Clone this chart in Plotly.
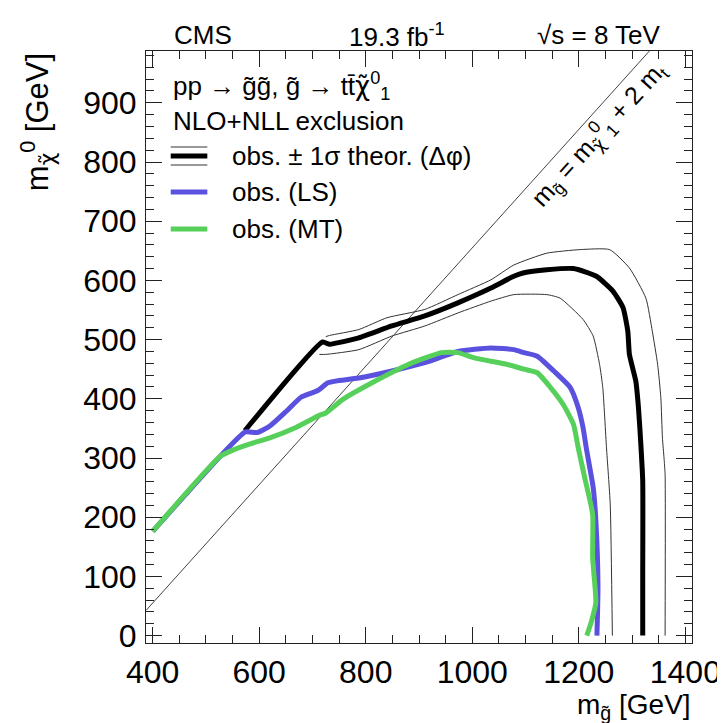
import plotly.graph_objects as go

# ---------------- data ----------------
obs_x = [573, 719, 732, 744, 787, 849, 911, 973, 1035, 1078, 1097, 1140, 1190, 1233,
         1264, 1283, 1292, 1295, 1307, 1312, 1316, 1320, 1320, 1320]
obs_y = [346, 496, 492, 494, 503, 523, 540, 562, 587, 607, 613, 618, 620, 607,
         582, 554, 514, 475, 430, 385, 330, 261, 100, 0]

obs_up_x = [725, 732, 787, 840, 911, 973, 1035, 1078, 1140, 1202, 1258, 1295, 1326,
            1338, 1348, 1354, 1357, 1360, 1362, 1362]
obs_up_y = [505, 507, 517, 537, 551, 576, 601, 626, 646, 652, 652, 621, 570,
            514, 458, 402, 334, 300, 272, 0]

obs_dn_x = [713, 725, 787, 849, 911, 973, 1035, 1078, 1140, 1165, 1208, 1227, 1239,
            1245, 1252, 1259, 1263]
obs_dn_y = [475, 475, 483, 506, 523, 545, 565, 576, 576, 570, 534, 506, 458,
            419, 317, 222, 0]

ls_x = [400, 527, 574, 596, 620, 651, 679, 710, 729, 744, 787, 849, 911, 973, 1035,
        1078, 1097, 1122, 1153, 1184, 1199, 1208, 1214, 1227, 1232, 1236, 1234]
ls_y = [176, 303, 344, 343, 354, 379, 403, 414, 427, 430, 435, 447, 461, 480, 486,
        483, 478, 472, 447, 419, 385, 351, 317, 250, 194, 81, 0]

mt_x = [400, 527, 552, 583, 620, 670, 713, 725, 757, 818, 880, 942, 973, 1004, 1066,
        1097, 1122, 1147, 1171, 1190, 1199, 1211, 1226, 1226, 1232, 1224, 1215]
mt_y = [176, 303, 314, 324, 334, 352, 372, 376, 399, 430, 458, 478, 478, 469, 458,
        450, 444, 419, 390, 357, 317, 267, 205, 132, 56, 25, 0]

m_top = 172.5
diag_x = [387.5, 1332.5]
diag_y = [v - 2 * m_top for v in diag_x]

x_range = [387.5, 1412.5]
y_range = [-12.5, 987.5]

BLUE = "#5A52DE"
GREEN = "#56D05A"
FONT = "Liberation Sans, Arial, Helvetica, sans-serif"
CHI = '<span style="font-family:DejaVu Sans">χ̃</span>'

# plot area in pixels
L, R, T, B = 138, 690, 43, 635
W, H = 725, 723


def px(xp):
    return (xp - L) / (R - L)


def py(yp):
    return (B - yp) / (B - T)


fig = go.Figure()

fig.add_trace(go.Scatter(x=diag_x, y=diag_y, mode="lines",
                         line=dict(color="#444", width=1), showlegend=False))
fig.add_trace(go.Scatter(x=obs_up_x, y=obs_up_y, mode="lines",
                         line=dict(color="#333", width=1, shape="spline", smoothing=0.5),
                         showlegend=False))
fig.add_trace(go.Scatter(x=obs_dn_x, y=obs_dn_y, mode="lines",
                         line=dict(color="#333", width=1, shape="spline", smoothing=0.5),
                         showlegend=False))
fig.add_trace(go.Scatter(x=obs_x, y=obs_y, mode="lines",
                         line=dict(color="black", width=5, shape="spline", smoothing=0.5),
                         showlegend=False))
fig.add_trace(go.Scatter(x=ls_x, y=ls_y, mode="lines",
                         line=dict(color=BLUE, width=5, shape="spline", smoothing=0.5),
                         showlegend=False))
fig.add_trace(go.Scatter(x=mt_x, y=mt_y, mode="lines",
                         line=dict(color=GREEN, width=5, shape="spline", smoothing=0.5),
                         showlegend=False))

axis_common = dict(
    showline=True, linecolor="#222", linewidth=1, mirror="ticks",
    ticks="inside", ticklen=16, tickwidth=1, tickcolor="#222",
    showgrid=False, zeroline=False,
    tickfont=dict(family=FONT, size=32, color="black"),
)

fig.update_xaxes(range=x_range, tick0=400, dtick=200,
                 minor=dict(dtick=50, ticks="inside", ticklen=8, tickcolor="#222"),
                 ticklabelstandoff=1, **axis_common)
fig.update_yaxes(range=y_range, tick0=0, dtick=100,
                 minor=dict(dtick=20, ticks="inside", ticklen=8, tickcolor="#222"),
                 ticklabelstandoff=2, **axis_common)

ann = []
# header
ann.append(dict(text="CMS", x=px(164), y=py(27), xanchor="left", yanchor="middle",
                font=dict(size=26)))
ann.append(dict(text="19.3 fb<sup>-1</sup>", x=px(392), y=py(27), xanchor="center",
                yanchor="middle", font=dict(size=26)))
ann.append(dict(text="√s = 8 TeV", x=px(661), y=py(27), xanchor="right",
                yanchor="middle", font=dict(size=26)))
# legend text
ann.append(dict(text="pp → g̃g̃, g̃ → tt̄" + CHI + "<sup>0</sup><sub>1</sub>",
                x=px(163), y=py(78), xanchor="left", yanchor="middle", font=dict(size=26)))
ann.append(dict(text="NLO+NLL exclusion", x=px(163), y=py(113),
                xanchor="left", yanchor="middle", font=dict(size=26)))
ann.append(dict(text="obs. ± 1σ theor. (Δφ)", x=px(223), y=py(148),
                xanchor="left", yanchor="middle", font=dict(size=26)))
ann.append(dict(text="obs. (LS)", x=px(223), y=py(184),
                xanchor="left", yanchor="middle", font=dict(size=26)))
ann.append(dict(text="obs. (MT)", x=px(223), y=py(221),
                xanchor="left", yanchor="middle", font=dict(size=26)))
# axis titles
ann.append(dict(text="m<sub>g̃</sub> [GeV]", x=1.0, y=py(698), xanchor="right",
                yanchor="middle", font=dict(size=28), borderpad=0))
ann.append(dict(text="m<sub>" + CHI + "</sub><sup>0</sup> [GeV]", x=px(28), y=1.0,
                xanchor="center", yanchor="top", textangle=-90, font=dict(size=31)))
# diagonal label
ann.append(dict(text="m<sub>g̃</sub> = m<sub>" + CHI + "</sub><sup>0</sup><sub>1</sub> + 2 m<sub>t</sub>",
                x=1237, y=847, xref="x", yref="y", xanchor="center", yanchor="middle",
                textangle=-47.7, font=dict(size=25)))

for a in ann:
    a.setdefault("xref", "paper")
    a.setdefault("yref", "paper")
    a["showarrow"] = False
    a["font"] = dict(family=FONT, color="black", **a["font"])

shapes = [
    dict(type="line", x0=px(163), x1=px(200), y0=py(139), y1=py(139),
         line=dict(color="#333", width=1)),
    dict(type="line", x0=px(163), x1=px(200), y0=py(157), y1=py(157),
         line=dict(color="#333", width=1)),
    dict(type="line", x0=px(163), x1=px(200), y0=py(148), y1=py(148),
         line=dict(color="black", width=5)),
    dict(type="line", x0=px(163), x1=px(200), y0=py(184), y1=py(184),
         line=dict(color=BLUE, width=5)),
    dict(type="line", x0=px(163), x1=px(200), y0=py(221), y1=py(221),
         line=dict(color=GREEN, width=5)),
]
for s in shapes:
    s["xref"] = "paper"
    s["yref"] = "paper"

fig.update_layout(
    width=W, height=H, autosize=False,
    margin=dict(l=L, r=W - R, t=T, b=H - B),
    paper_bgcolor="white", plot_bgcolor="white",
    annotations=ann, shapes=shapes, showlegend=False,
    font=dict(family=FONT, color="black"),
)

fig.write_html("out.html")
